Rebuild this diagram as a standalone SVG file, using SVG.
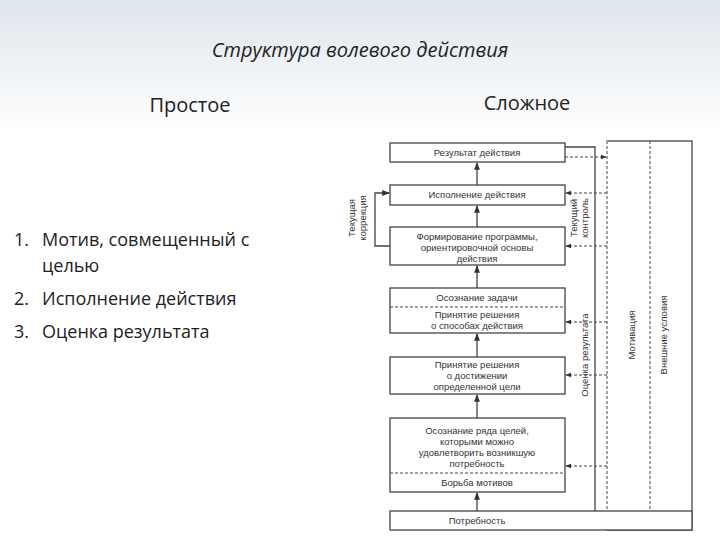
<svg xmlns="http://www.w3.org/2000/svg" width="720" height="540" viewBox="0 0 720 540">
<defs>
<linearGradient id="bg" x1="0" y1="0" x2="0" y2="1"><stop offset="0" stop-color="#dfe6ec"/><stop offset="0.25" stop-color="#ffffff"/></linearGradient>
<marker id="ah" viewBox="0 0 8 8" refX="7" refY="4" markerWidth="6" markerHeight="6" orient="auto"><path d="M0,1 L8,4 L0,7 z" fill="#333"/></marker>
</defs>
<style>
.t{font-family:"Open Sans","Liberation Sans",sans-serif;fill:#222}
.s{font-family:"Liberation Sans",sans-serif;font-size:9.5px;fill:#333;text-anchor:middle}
.b{fill:#fff;stroke:#444;stroke-width:1.3}
.l{stroke:#444;stroke-width:1.3;fill:none}
.d{stroke:#444;stroke-width:1;stroke-dasharray:3,2;fill:none}
</style>
<rect width="720" height="540" fill="url(#bg)"/>
<text class="t" x="360" y="57" font-size="20" font-style="italic" text-anchor="middle">Структура волевого действия</text>
<text class="t" x="190" y="112" font-size="20" text-anchor="middle">Простое</text>
<text class="t" x="527" y="110" font-size="20" text-anchor="middle">Сложное</text>
<g class="t" font-size="18">
<text x="14" y="246">1.</text><text x="42" y="246">Мотив, совмещенный с</text>
<text x="42" y="272">целью</text>
<text x="14" y="305">2.</text><text x="42" y="305">Исполнение действия</text>
<text x="14" y="338">3.</text><text x="42" y="338">Оценка результата</text>
</g>
<rect x="340" y="130" width="366" height="410" fill="#fff"/>
<g id="right-block"><rect x="607" y="141" width="85" height="389" class="l"/><line x1="607" y1="141" x2="607" y2="530" stroke="#fff" stroke-width="2"/><line x1="607" y1="141" x2="607" y2="530" class="d"/><line x1="650" y1="141" x2="650" y2="530" class="d"/>
<text class="s" transform="translate(635,335) rotate(-90)">Мотивация</text>
<text class="s" transform="translate(667,335) rotate(-90)">Внешние условия</text></g>
<g id="n1"><rect x="390" y="143" width="175" height="19" class="b"/><text class="s" x="477" y="156">Результат действия</text></g>
<g id="n2"><rect x="390" y="185" width="175" height="20" class="b"/><text class="s" x="477" y="198">Исполнение действия</text></g>
<g id="n3"><rect x="390" y="227" width="175" height="38" class="b"/><text class="s" x="477" y="240">Формирование программы,</text><text class="s" x="477" y="251">ориентировочной основы</text><text class="s" x="477" y="262">действия</text></g>
<g id="n4"><rect x="390" y="288" width="175" height="45" class="b"/><line x1="390" y1="307" x2="565" y2="307" class="d"/><text class="s" x="477" y="301">Осознание задачи</text><text class="s" x="477" y="318">Принятие решения</text><text class="s" x="477" y="329">о способах действия</text></g>
<g id="n5"><rect x="390" y="357" width="175" height="37" class="b"/><text class="s" x="477" y="368">Принятие решения</text><text class="s" x="477" y="379">о достижении</text><text class="s" x="477" y="390">определенной цели</text></g>
<g id="n6"><rect x="390" y="418" width="175" height="74" class="b"/><line x1="390" y1="473" x2="565" y2="473" class="d"/><text class="s" x="477" y="434">Осознание ряда целей,</text><text class="s" x="477" y="445">которыми можно</text><text class="s" x="477" y="456">удовлетворить возникшую</text><text class="s" x="477" y="467">потребность</text><text class="s" x="477" y="486">Борьба мотивов</text></g>
<g id="n7"><rect x="390" y="511" width="302" height="19" class="b"/><text class="s" x="477" y="524">Потребность</text></g>
<g id="connectors">
<line x1="477" y1="185" x2="477" y2="163" class="l" marker-end="url(#ah)"/>
<line x1="477" y1="227" x2="477" y2="206" class="l" marker-end="url(#ah)"/>
<line x1="477" y1="288" x2="477" y2="266" class="l" marker-end="url(#ah)"/>
<line x1="477" y1="357" x2="477" y2="334" class="l" marker-end="url(#ah)"/>
<line x1="477" y1="418" x2="477" y2="395" class="l" marker-end="url(#ah)"/>
<line x1="477" y1="511" x2="477" y2="493" class="l" marker-end="url(#ah)"/>
<path d="M390,246 H375 V193 H389" class="l" marker-end="url(#ah)"/>
<path d="M565,147 H595 V511" class="l"/>
<line x1="565" y1="157" x2="606" y2="157" class="d" marker-end="url(#ah)"/>
<line x1="607" y1="193" x2="566" y2="193" class="d" marker-end="url(#ah)"/>
<line x1="607" y1="246" x2="566" y2="246" class="d" marker-end="url(#ah)"/>
<line x1="607" y1="322" x2="566" y2="322" class="d" marker-end="url(#ah)"/>
<line x1="607" y1="375" x2="566" y2="375" class="d" marker-end="url(#ah)"/>
<line x1="607" y1="466" x2="566" y2="466" class="d" marker-end="url(#ah)"/>
</g>
<text class="s" transform="translate(355,218) rotate(-90)">Текущая</text>
<text class="s" transform="translate(366,218) rotate(-90)">коррекция</text>
<text class="s" transform="translate(577,218) rotate(-90)">Текущий</text>
<text class="s" transform="translate(588,218) rotate(-90)">контроль</text>
<text class="s" transform="translate(588,355) rotate(-90)">Оценка результата</text>
</svg>
